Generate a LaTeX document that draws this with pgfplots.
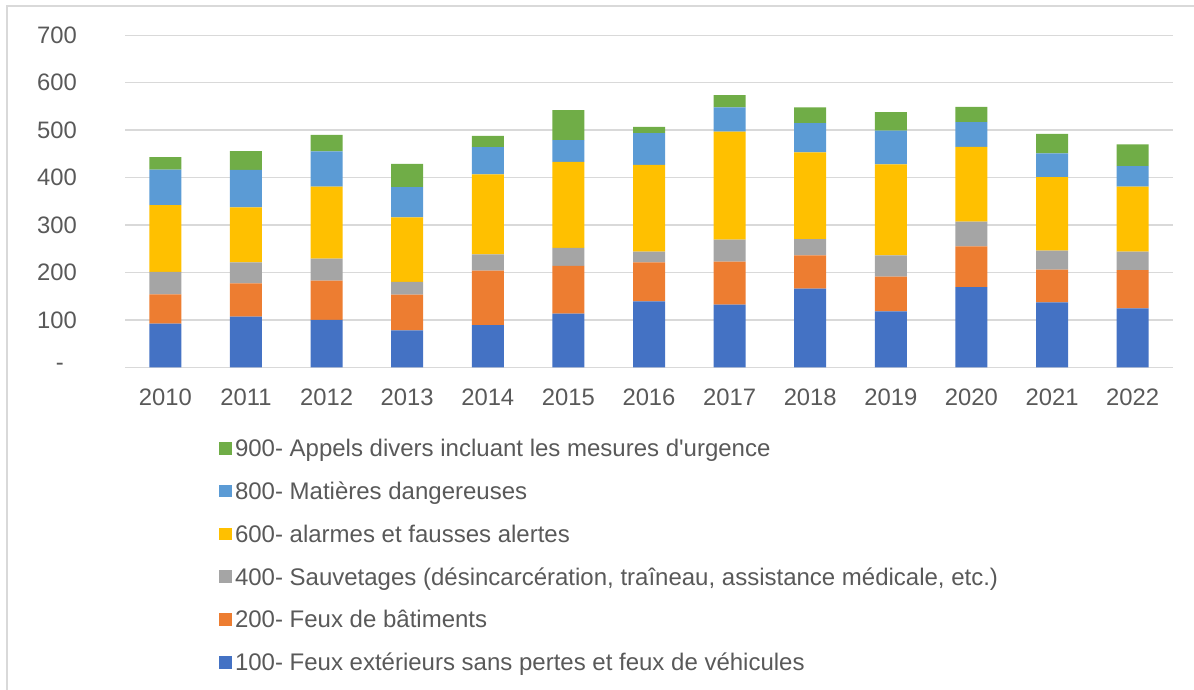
\documentclass[border=0pt]{standalone}
\usepackage{pgfplots}
\usepackage{pgfplotstable}
\pgfplotsset{compat=1.18}
\usepackage{fontspec}
\setmainfont{Liberation Sans}
\definecolor{cA}{HTML}{4472C4}
\definecolor{cB}{HTML}{ED7D31}
\definecolor{cC}{HTML}{A5A5A5}
\definecolor{cD}{HTML}{FFC000}
\definecolor{cE}{HTML}{5B9BD5}
\definecolor{cF}{HTML}{70AD47}
\definecolor{txt}{HTML}{595959}
\definecolor{grd}{HTML}{D9D9D9}

\pgfplotstableread{
x a b c d e f
0 92 62 47 141 75 26
1 107 70 44 116 79 40
2 100 83 46 152 74 35
3 78 75 27 136 64 49
4 89 115 34 169 57 24
5 113 101 38 181 46 63
6 139 82 23 183 67 13
7 132 91 46 228 51 26
8 166 70 34 183 62 33
9 118 73 45 192 71 39
10 169 86 52 158 52 32
11 137 69 40 155 50 41
12 124 81 39 137 43 46
}\datatab

\begin{document}
\begin{tikzpicture}
\useasboundingbox (0bp,0bp) rectangle (1194bp,690bp);
\draw[grd, line width=1.5bp] (7bp,0bp) -- (7bp,684bp) -- (1194bp,684bp);
\begin{axis}[
  at={(125bp,322.7bp)}, anchor=south west,
  scale only axis, width=1048bp, height=332bp,
  ybar stacked, bar width=32bp,
  xmin=-0.5, xmax=12.5, ymin=0, ymax=700,
  xtick={0,...,12},
  xticklabels={2010,2011,2012,2013,2014,2015,2016,2017,2018,2019,2020,2021,2022},
  ytick={0,100,200,300,400,500,600,700},
  yticklabels={{-\hspace*{13bp}},100,200,300,400,500,600,700},
  axis line style={draw=none},
  major tick length=0pt,
  ymajorgrids, grid style={grd, line width=1.5bp},
  tick label style={font=\fontsize{23.8bp}{28bp}\selectfont, text=txt, inner sep=0pt},
  xticklabel style={yshift=-21bp},
  yticklabel style={xshift=-48bp},
  legend style={at={(0.09,-0.2181)}, anchor=north west, draw=none, fill=none,
    inner sep=0pt, outer sep=0pt, row sep=20.8bp,
    font=\fontsize{24bp}{28bp}\selectfont, text=txt,
    nodes={inner sep=0pt, text height=17bp, text depth=5bp},
    /tikz/every odd column/.append style={column sep=3bp}},
  reverse legend,
  legend cell align=left,
  legend image code/.code={\fill[#1] (0bp,-3.95bp) rectangle (12.7bp,8.75bp);},
]
\addplot[fill=cA, draw=none] table[x=x,y=a]{\datatab};
\addlegendentry{100- Feux extérieurs sans pertes et feux de véhicules}
\addplot[fill=cB, draw=none] table[x=x,y=b]{\datatab};
\addlegendentry{200- Feux de bâtiments}
\addplot[fill=cC, draw=none] table[x=x,y=c]{\datatab};
\addlegendentry{400- Sauvetages (désincarcération, traîneau, assistance médicale, etc.)}
\addplot[fill=cD, draw=none] table[x=x,y=d]{\datatab};
\addlegendentry{600- alarmes et fausses alertes}
\addplot[fill=cE, draw=none] table[x=x,y=e]{\datatab};
\addlegendentry{800- Matières dangereuses}
\addplot[fill=cF, draw=none] table[x=x,y=f]{\datatab};
\addlegendentry{900- Appels divers incluant les mesures d\textquotesingle urgence}
\end{axis}
\end{tikzpicture}
\end{document}
